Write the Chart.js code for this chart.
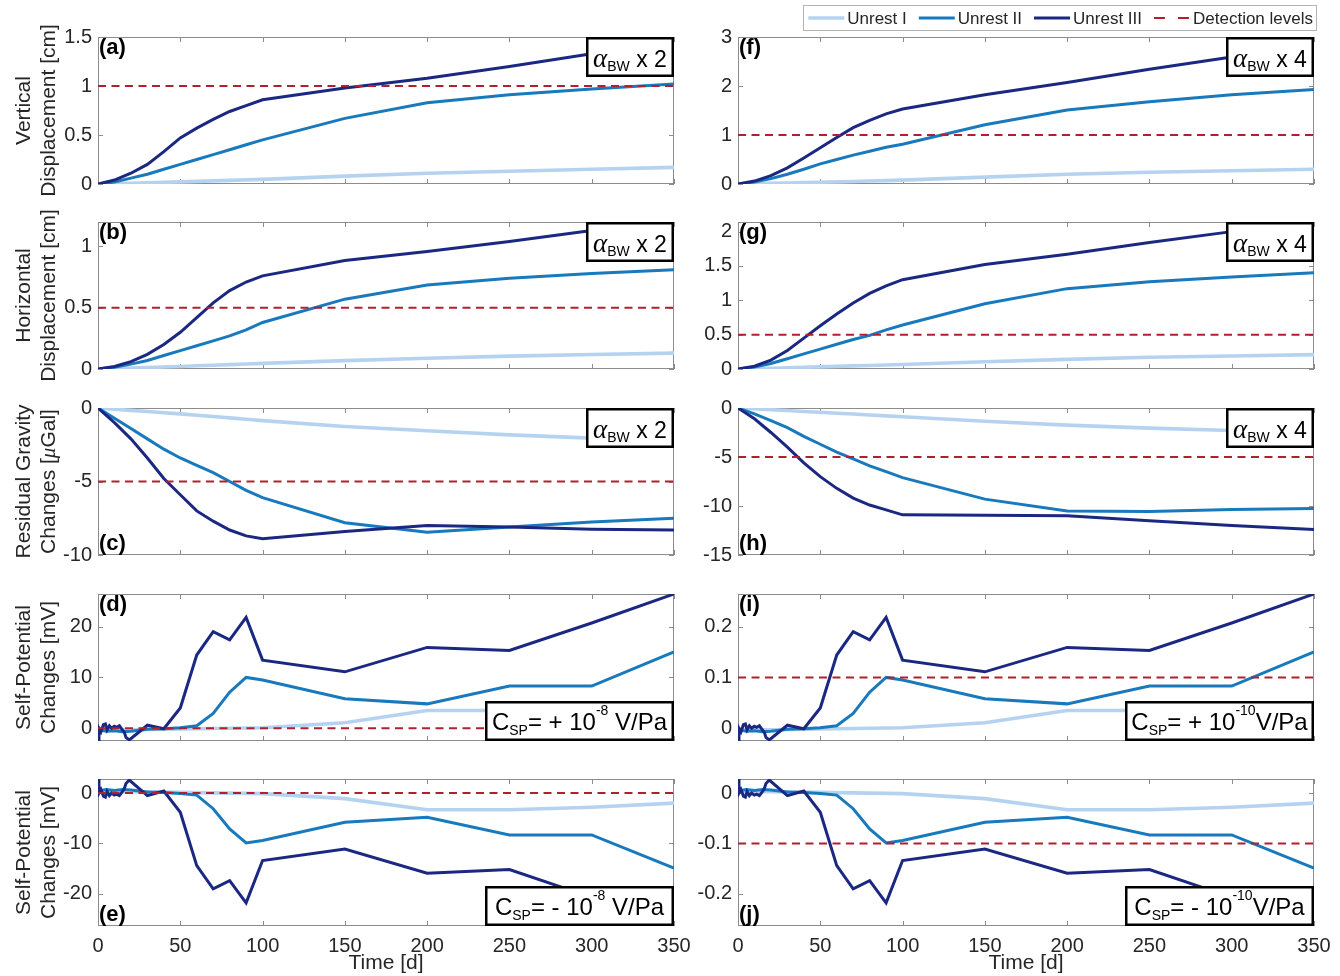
<!DOCTYPE html>
<html><head><meta charset="utf-8">
<script src="https://cdn.jsdelivr.net/npm/chart.js@4.4.0/dist/chart.umd.min.js"></script>
<style>
html,body{margin:0;padding:0;background:#fff;}
body{width:1340px;height:976px;overflow:hidden;position:relative;}
canvas{position:absolute;}
</style></head><body>
<script>
// ---------------- DATA ----------------
const timeSmooth = [0,10,20,30,40,50,60,70,80,90,100,150,200,250,300,350];
const detectionTimes = [0,350];
const xTickValues = [0,50,100,150,200,250,300,350];

// (a) vertical displacement, alpha_BW x 2 [cm]
const vertI_x2   = [0,0.003,0.008,0.012,0.017,0.022,0.027,0.032,0.037,0.042,0.047,0.08,0.11,0.13,0.15,0.17];
const vertII_x2  = [0,0.02,0.06,0.1,0.15,0.2,0.25,0.3,0.35,0.4,0.45,0.67,0.83,0.91,0.97,1.02];
const vertIII_x2 = [0,0.04,0.11,0.2,0.33,0.47,0.57,0.66,0.74,0.8,0.86,0.98,1.08,1.2,1.33,1.46];
// (b) horizontal displacement, x 2 [cm]
const horI_x2   = [0,0.003,0.007,0.011,0.016,0.021,0.026,0.031,0.036,0.041,0.046,0.068,0.088,0.105,0.118,0.13];
const horII_x2  = [0,0.015,0.04,0.07,0.11,0.15,0.19,0.23,0.27,0.32,0.38,0.57,0.685,0.74,0.78,0.81];
const horIII_x2 = [0,0.02,0.06,0.12,0.2,0.3,0.42,0.54,0.64,0.71,0.76,0.885,0.96,1.04,1.13,1.2];
// (c) residual gravity, x 2 [uGal]
const gravI_x2   = [0,-0.08,-0.16,-0.24,-0.32,-0.4,-0.49,-0.58,-0.67,-0.76,-0.86,-1.26,-1.55,-1.83,-2.05,-2.25];
const gravII_x2  = [0,-0.7,-1.4,-2.1,-2.8,-3.4,-3.9,-4.4,-5.0,-5.6,-6.1,-7.8,-8.45,-8.1,-7.75,-7.5];
const gravIII_x2 = [0,-1.0,-2.1,-3.4,-4.8,-5.9,-7.0,-7.7,-8.3,-8.7,-8.9,-8.4,-8.0,-8.1,-8.25,-8.3];
// (f) vertical displacement, x 4 [cm]
const vertI_x4   = [0,0.005,0.012,0.02,0.028,0.036,0.044,0.052,0.06,0.068,0.08,0.14,0.2,0.24,0.27,0.3];
const vertII_x4  = [0,0.04,0.11,0.2,0.3,0.41,0.5,0.59,0.67,0.75,0.81,1.21,1.51,1.68,1.82,1.93];
const vertIII_x4 = [0,0.06,0.17,0.33,0.53,0.74,0.95,1.15,1.3,1.43,1.53,1.82,2.07,2.34,2.59,2.85];
// (g) horizontal displacement, x 4 [cm]
const horI_x4   = [0,0.005,0.011,0.017,0.024,0.031,0.038,0.045,0.052,0.059,0.066,0.105,0.14,0.17,0.19,0.21];
const horII_x4  = [0,0.03,0.08,0.15,0.22,0.29,0.36,0.43,0.49,0.57,0.64,0.95,1.17,1.27,1.34,1.4];
const horIII_x4 = [0,0.04,0.13,0.27,0.45,0.63,0.8,0.96,1.1,1.21,1.3,1.52,1.67,1.84,2.0,2.14];
// (h) residual gravity, x 4 [uGal]
const gravI_x4   = [0,-0.08,-0.17,-0.26,-0.35,-0.44,-0.53,-0.62,-0.71,-0.8,-0.89,-1.35,-1.75,-2.05,-2.3,-2.6];
const gravII_x4  = [0,-0.6,-1.3,-2.0,-2.9,-3.7,-4.5,-5.2,-5.9,-6.5,-7.1,-9.3,-10.5,-10.55,-10.35,-10.25];
const gravIII_x4 = [0,-1.1,-2.5,-4.0,-5.6,-7.0,-8.2,-9.2,-9.9,-10.4,-10.9,-10.95,-11.0,-11.5,-12.0,-12.4];

// Self-potential time samples
const spTimeI   = [0,20,40,60,80,100,150,200,250,300,350];
const spTimeII  = [0,5,10,15,20,25,30,40,50,60,70,80,90,100,150,200,250,300,350];
const spTimeIII = [0,0.6,1.8,3.3,4.5,5.5,6.9,8.3,9.9,11.4,13,14.6,16,17,19,30,40,50,60,70,80,90,100,150,200,250,300,350];
// (d) C_SP = +1e-8 V/Pa [mV]
const spPosI_8   = [-0.3,-0.3,-0.2,-0.1,0,0.1,1.1,3.5,3.5,2.9,2.1];
const spPosII_8  = [-0.3,-0.6,-0.5,-0.7,-0.6,-0.4,-0.2,-0.1,0.1,0.5,2.9,7.1,10.0,9.5,5.8,4.8,8.3,8.3,15.0];
const spPosIII_8 = [-2.5,0,-0.7,0.7,0.85,-0.3,0.5,0,0.4,0.2,0.5,-0.2,-0.8,-1.8,-2.3,0.6,-0.1,4.0,14.4,19.0,17.4,21.8,13.4,11.1,15.9,15.3,20.7,26.4];
// (e) C_SP = -1e-8 V/Pa [mV]
const spNegI_8   = [0.3,0.3,0.2,0.1,0,-0.1,-1.1,-3.3,-3.3,-2.8,-2.0];
const spNegII_8  = [0.4,0.7,0.5,0.7,0.6,0.4,0.2,0.1,-0.1,-0.4,-3.1,-7.1,-9.9,-9.4,-5.8,-4.8,-8.3,-8.3,-14.9];
const spNegIII_8 = [2.8,0,0.7,-0.6,-0.8,0.3,-0.5,0,-0.4,-0.2,-0.5,0.2,0.9,1.9,2.6,-0.5,0.4,-3.8,-14.4,-19.0,-17.4,-21.8,-13.4,-11.1,-15.9,-15.2,-20.7,-26.4];
// (i) C_SP = +1e-10 V/Pa [mV]
const spPosI_10   = [-0.003,-0.003,-0.002,-0.001,0,0.001,0.011,0.035,0.035,0.029,0.021];
const spPosII_10  = [-0.003,-0.006,-0.005,-0.007,-0.006,-0.004,-0.002,-0.001,0.001,0.005,0.029,0.071,0.1,0.095,0.058,0.048,0.083,0.083,0.15];
const spPosIII_10 = [-0.025,0,-0.007,0.007,0.0085,-0.003,0.005,0,0.004,0.002,0.005,-0.002,-0.008,-0.018,-0.023,0.006,-0.001,0.04,0.144,0.19,0.174,0.218,0.134,0.111,0.159,0.153,0.207,0.264];
// (j) C_SP = -1e-10 V/Pa [mV]
const spNegI_10   = [0.003,0.003,0.002,0.001,0,-0.001,-0.011,-0.033,-0.033,-0.028,-0.02];
const spNegII_10  = [0.004,0.007,0.005,0.007,0.006,0.004,0.002,0.001,-0.001,-0.004,-0.031,-0.071,-0.099,-0.094,-0.058,-0.048,-0.083,-0.083,-0.149];
const spNegIII_10 = [0.028,0,0.007,-0.006,-0.008,0.003,-0.005,0,-0.004,-0.002,-0.005,0.002,0.009,0.019,0.026,-0.005,0.004,-0.038,-0.144,-0.19,-0.174,-0.218,-0.134,-0.111,-0.159,-0.152,-0.207,-0.264];

// detection levels
const detVert = [1,1];
const detHor = [0.5,0.5];
const detGrav = [-5,-5];
const detSP8pos = [0,0];
const detSP8neg = [0,0];
const detSP10pos = [0.1,0.1];
const detSP10neg = [-0.1,-0.1];

// y ticks and limits
const yTicksA = [0,0.5,1,1.5], yLimA = [0,1.5];
const yTicksB = [0,0.5,1],     yLimB = [0,1.2];
const yTicksC = [-10,-5,0],    yLimC = [-10,0];
const yTicksD = [0,10,20],     yLimD = [-2.5,26.4];
const yTicksE = [-20,-10,0],   yLimE = [-26.4,2.8];
const yTicksF = [0,1,2,3],     yLimF = [0,3];
const yTicksG = [0,0.5,1,1.5,2], yLimG = [0,2.14];
const yTicksH = [-15,-10,-5,0], yLimH = [-15,0];
const yTicksI = [0,0.1,0.2],   yLimI = [-0.025,0.264];
const yTicksJ = [-0.2,-0.1,0], yLimJ = [-0.264,0.028];

const seriesLabels = ['Unrest I','Unrest II','Unrest III','Detection levels'];

// ---------------- STYLE / LAYOUT ----------------
const FONT = '"Liberation Sans", Arial, Helvetica, sans-serif';
const SERIF = '"Liberation Serif", "DejaVu Serif", serif';
const TEXT = '#262626';
const AXIS = '#8c8c8c';
const COLORS = ['#b5d3f0','#1879bd','#1b2882','#b0202f'];
const WIDTHS = [3.6,3,3,2];
const PLOT_LEFT = [98,738], PLOT_RIGHT = [674,1314];
const PLOT_TOP = [37,222,408,594,779], PLOT_H = 147;
const CANVAS_LEFT = [0,690];
const PAD = 20, PAD_RIGHT = 30;

Chart.defaults.font.family = FONT;

function xy(t, v){ return t.map((tt,i)=>({x:tt, y:v[i]})); }

function drawRich(ctx, segs, x, y, align){
  let total = 0;
  const w = segs.map(s=>{ ctx.font = s.font; const m = ctx.measureText(s.t).width; total += m; return m; });
  let cx = align==='left' ? x : (align==='right' ? x-total : x-total/2);
  segs.forEach((s,i)=>{ ctx.font = s.font; ctx.fillText(s.t, cx, y+(s.dy||0)); cx += w[i]; });
  return total;
}

function tagSegments(tag){
  if (tag.kind==='alpha') return [
    {t:'\u03B1', font:`italic 27px ${SERIF}`},
    {t:'BW', font:`14px ${FONT}`, dy:4},
    {t:' x '+tag.factor, font:`23px ${FONT}`}
  ];
  return [
    {t:'C', font:`24px ${FONT}`},
    {t:'SP', font:`14px ${FONT}`, dy:5},
    {t:'= '+tag.sign+' 10', font:`24px ${FONT}`},
    {t:tag.exp, font:`14px ${FONT}`, dy:-15},
    {t:tag.tail, font:`24px ${FONT}`}
  ];
}

const decor = {
  id:'decor',
  beforeDatasetsDraw(chart, args, o){
    const {ctx, chartArea:a, scales} = chart;
    ctx.save();
    ctx.strokeStyle = AXIS; ctx.lineWidth = 1;
    ctx.strokeRect(Math.round(a.left)+0.5, Math.round(a.top)+0.5, Math.round(a.right-a.left)-1, Math.round(a.bottom-a.top)-1);
    const tl = 5;
    ctx.beginPath();
    scales.x.ticks.forEach(t=>{
      const p = Math.round(scales.x.getPixelForValue(t.value))+0.5;
      ctx.moveTo(p, a.bottom); ctx.lineTo(p, a.bottom-tl);
      ctx.moveTo(p, a.top); ctx.lineTo(p, a.top+tl);
    });
    scales.y.ticks.forEach(t=>{
      const p = Math.round(scales.y.getPixelForValue(t.value))+0.5;
      ctx.moveTo(a.left, p); ctx.lineTo(a.left+tl, p);
      ctx.moveTo(a.right, p); ctx.lineTo(a.right-tl, p);
    });
    ctx.stroke();
    ctx.restore();
  },
  afterDatasetsDraw(chart, args, o){
    const {ctx, chartArea:a} = chart;
    ctx.save();
    ctx.textBaseline = 'alphabetic';
    if (o.tag){
      const alpha = o.tag.kind==='alpha';
      const bw = alpha ? 88 : 189, bh = 40;
      const bx = a.right - bw;
      const by = alpha ? a.top : a.bottom - bh;
      ctx.fillStyle = '#fff';
      ctx.fillRect(bx, by, bw, bh);
      ctx.strokeStyle = '#000'; ctx.lineWidth = 2.5;
      ctx.strokeRect(bx+1.25, by+1.25, bw-2.5, bh-2.5);
      ctx.fillStyle = '#000';
      drawRich(ctx, tagSegments(o.tag), bx+bw/2, by+(alpha?30:29), 'center');
    }
    if (o.letter){
      ctx.fillStyle = '#000';
      ctx.font = `bold 22px ${FONT}`;
      const y = o.letterPos==='top' ? a.top+17 : a.bottom-5;
      ctx.fillText(o.letter, a.left+1, y);
    }
    ctx.restore();
  },
  afterDraw(chart, args, o){
    const {ctx, chartArea:a} = chart;
    ctx.save();
    if (o.ytitle){
      ctx.fillStyle = TEXT;
      ctx.textBaseline = 'alphabetic';
      const cy = (a.top+a.bottom)/2;
      o.ytitle.forEach((line, i)=>{
        ctx.save();
        ctx.translate(30 + i*25, cy);
        ctx.rotate(-Math.PI/2);
        drawRich(ctx, line, 0, 0, 'center');
        ctx.restore();
      });
    }
    if (o.legend){
      ctx.font = `17px ${FONT}`;
      const items = chart.data.datasets.map(ds=>({label:ds.label, color:ds.borderColor, dash:!!ds.borderDash, lw:ds.borderWidth}));
      const sample = 36, gapT = 3, gapI = 12, padL = 5, padR = 4;
      let total = padL+padR;
      items.forEach((it,i)=>{ it.w = ctx.measureText(it.label).width; total += sample+gapT+it.w+(i<items.length-1?gapI:0); });
      const right = a.right+3, left = right-total, top = 5, h = 26;
      ctx.fillStyle = '#fff'; ctx.fillRect(left, top, total, h);
      ctx.strokeStyle = '#b4b4b4'; ctx.lineWidth = 1;
      ctx.strokeRect(Math.round(left)+0.5, top+0.5, Math.round(total)-1, h-1);
      let x = left+padL; const cy = top+h/2;
      items.forEach(it=>{
        ctx.strokeStyle = it.color; ctx.lineWidth = it.lw;
        ctx.setLineDash(it.dash ? [11,13] : []);
        ctx.beginPath(); ctx.moveTo(x, cy); ctx.lineTo(x+sample, cy); ctx.stroke();
        ctx.setLineDash([]);
        x += sample+gapT;
        ctx.fillStyle = TEXT; ctx.textBaseline = 'middle';
        ctx.fillText(it.label, x, cy+1);
        x += it.w+gapI;
      });
    }
    ctx.restore();
  }
};

const plain = s => [{t:s, font:`21px ${FONT}`}];
const TITLE_SP = [plain('Self-Potential'), plain('Changes [mV]')];

const panels = [
  {col:0,row:0, letter:'(a)', letterPos:'top', lim:yLimA, ticks:yTicksA, ytitle:[plain('Vertical'),plain('Displacement [cm]')],
   tag:{kind:'alpha',factor:'2'}, times:[timeSmooth,timeSmooth,timeSmooth], series:[vertI_x2,vertII_x2,vertIII_x2], det:detVert},
  {col:0,row:1, letter:'(b)', letterPos:'top', lim:yLimB, ticks:yTicksB, ytitle:[plain('Horizontal'),plain('Displacement [cm]')],
   tag:{kind:'alpha',factor:'2'}, times:[timeSmooth,timeSmooth,timeSmooth], series:[horI_x2,horII_x2,horIII_x2], det:detHor},
  {col:0,row:2, letter:'(c)', letterPos:'bottom', lim:yLimC, ticks:yTicksC,
   ytitle:[plain('Residual Gravity'), [{t:'Changes [', font:`21px ${FONT}`},{t:'\u03BC', font:`italic 21px ${SERIF}`},{t:'Gal]', font:`21px ${FONT}`}]],
   tag:{kind:'alpha',factor:'2'}, times:[timeSmooth,timeSmooth,timeSmooth], series:[gravI_x2,gravII_x2,gravIII_x2], det:detGrav},
  {col:0,row:3, letter:'(d)', letterPos:'top', lim:yLimD, ticks:yTicksD, ytitle:TITLE_SP,
   tag:{kind:'csp',sign:'+',exp:'-8',tail:' V/Pa'}, times:[spTimeI,spTimeII,spTimeIII], series:[spPosI_8,spPosII_8,spPosIII_8], det:detSP8pos},
  {col:0,row:4, letter:'(e)', letterPos:'bottom', lim:yLimE, ticks:yTicksE, ytitle:TITLE_SP,
   tag:{kind:'csp',sign:'-',exp:'-8',tail:' V/Pa'}, times:[spTimeI,spTimeII,spTimeIII], series:[spNegI_8,spNegII_8,spNegIII_8], det:detSP8neg},
  {col:1,row:0, letter:'(f)', letterPos:'top', lim:yLimF, ticks:yTicksF, legend:true,
   tag:{kind:'alpha',factor:'4'}, times:[timeSmooth,timeSmooth,timeSmooth], series:[vertI_x4,vertII_x4,vertIII_x4], det:detVert},
  {col:1,row:1, letter:'(g)', letterPos:'top', lim:yLimG, ticks:yTicksG,
   tag:{kind:'alpha',factor:'4'}, times:[timeSmooth,timeSmooth,timeSmooth], series:[horI_x4,horII_x4,horIII_x4], det:detHor},
  {col:1,row:2, letter:'(h)', letterPos:'bottom', lim:yLimH, ticks:yTicksH,
   tag:{kind:'alpha',factor:'4'}, times:[timeSmooth,timeSmooth,timeSmooth], series:[gravI_x4,gravII_x4,gravIII_x4], det:detGrav},
  {col:1,row:3, letter:'(i)', letterPos:'top', lim:yLimI, ticks:yTicksI,
   tag:{kind:'csp',sign:'+',exp:'-10',tail:'V/Pa'}, times:[spTimeI,spTimeII,spTimeIII], series:[spPosI_10,spPosII_10,spPosIII_10], det:detSP10pos},
  {col:1,row:4, letter:'(j)', letterPos:'bottom', lim:yLimJ, ticks:yTicksJ,
   tag:{kind:'csp',sign:'-',exp:'-10',tail:'V/Pa'}, times:[spTimeI,spTimeII,spTimeIII], series:[spNegI_10,spNegII_10,spNegIII_10], det:detSP10neg}
];

panels.forEach(p=>{
  const bottomRow = p.row===4;
  const cl = CANVAS_LEFT[p.col];
  const padTop = p.legend ? PLOT_TOP[p.row] : PAD;
  const xH = bottomRow ? 50 : 0;
  const padBottom = bottomRow ? 0 : PAD;
  const w = PLOT_RIGHT[p.col] + PAD_RIGHT - cl;
  const h = padTop + PLOT_H + xH + padBottom;
  const cv = document.createElement('canvas');
  cv.width = w; cv.height = h;
  cv.style.left = cl+'px'; cv.style.top = (PLOT_TOP[p.row]-padTop)+'px';
  cv.style.width = w+'px'; cv.style.height = h+'px';
  document.body.appendChild(cv);
  const yW = PLOT_LEFT[p.col] - cl;

  const datasets = p.series.map((s,i)=>({
    label: seriesLabels[i], data: xy(p.times[i], s),
    borderColor: COLORS[i], borderWidth: WIDTHS[i], order: 3-i,
    pointRadius:0, tension:0, fill:false
  }));
  datasets.push({label: seriesLabels[3], data: xy(detectionTimes, p.det), borderColor: COLORS[3],
    borderWidth: WIDTHS[3], borderDash:[8,5.5], order:0, pointRadius:0, tension:0, fill:false});

  new Chart(cv, {
    type:'line',
    data:{datasets},
    plugins:[decor],
    options:{
      responsive:false, animation:false, devicePixelRatio:1,
      layout:{padding:{left:0, right:PAD_RIGHT, top:padTop, bottom:padBottom}},
      plugins:{
        legend:{display:false}, tooltip:{enabled:false},
        decor:{letter:p.letter, letterPos:p.letterPos, tag:p.tag, ytitle:p.col===0?p.ytitle:null, legend:!!p.legend}
      },
      scales:{
        x:{type:'linear', min:0, max:350,
           afterBuildTicks:s=>{ s.ticks = xTickValues.map(v=>({value:v})); },
           afterFit:s=>{ s.height = xH; },
           grid:{display:false, drawTicks:false}, border:{display:false},
           ticks:{display:bottomRow, padding:8, autoSkip:false, maxRotation:0, color:TEXT, font:{size:20}, callback:v=>String(v)},
           title:{display:bottomRow, text:'Time [d]', color:TEXT, font:{size:21, lineHeight:1.1}, padding:{top:0,bottom:1}}
        },
        y:{type:'linear', min:p.lim[0], max:p.lim[1],
           afterBuildTicks:s=>{ s.ticks = p.ticks.map(v=>({value:v})); },
           afterFit:s=>{ s.width = yW; },
           grid:{display:false, drawTicks:false}, border:{display:false},
           ticks:{padding:6, color:TEXT, font:{size:20}, callback:v=>String(v)}
        }
      }
    }
  });
});
</script>
</body></html>
